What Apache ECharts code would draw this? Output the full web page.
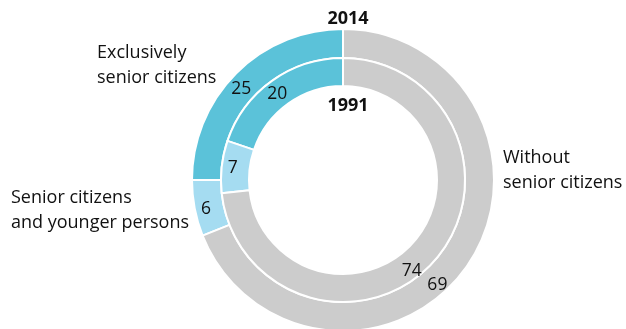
<!DOCTYPE html>
<html>
<head>
<meta charset="utf-8">
<script src="https://cdn.jsdelivr.net/npm/echarts@6/dist/echarts.min.js"></script>
<style>
html,body{margin:0;padding:0;background:#fff;}
#chart{width:626px;height:329px;}
</style>
</head>
<body>
<div id="chart"></div>
<script>
const categories = ['Exclusively senior citizens', 'Senior citizens and younger persons', 'Without senior citizens'];
const categoryLines = [['Exclusively', 'senior citizens'], ['Senior citizens', 'and younger persons'], ['Without', 'senior citizens']];
const values2014 = [25, 6, 69];
const values1991 = [20, 7, 74];
const ringTitles = ['2014', '1991'];
const colors = ['#5bc2d9', '#a5dcf1', '#cccccc'];

const FONT = '"Open Sans", "Noto Sans", sans-serif';
const chart = echarts.init(document.getElementById('chart'), null, {renderer: 'canvas'});

const center = [343, 180];
// label nudges (px) relative to the mid-angle position
const outerNudge = [[-3, 8], [0, 3], [-21, 27]];
const innerNudge = [[-1, 4], [0, 0], [-14, 17]];

function ring(name, values, radius, nudge) {
  return {
    type: 'pie',
    name: name,
    center: center,
    radius: radius,
    startAngle: 90,
    clockwise: false,
    avoidLabelOverlap: false,
    silent: true,
    animation: false,
    itemStyle: {borderColor: '#ffffff', borderWidth: 2},
    label: {
      show: true,
      position: 'inside',
      formatter: '{c}',
      color: '#111111',
      fontSize: 17.5,
      fontFamily: FONT
    },
    labelLine: {show: false},
    labelLayout: function (p) { return {dx: nudge[p.dataIndex][0], dy: nudge[p.dataIndex][1]}; },
    emphasis: {disabled: true},
    data: values.map((v, i) => ({name: categories[i], value: v, itemStyle: {color: colors[i]}}))
  };
}

const labelPos = [[97, 53], [11, 198], [503, 158]];
const graphics = [];
categoryLines.forEach((lines, i) => {
  graphics.push({
    type: 'text', left: labelPos[i][0], top: labelPos[i][1] - 13,
    style: {text: lines.join('\n'), font: '18px ' + FONT, fill: '#111111', lineHeight: 25}
  });
});

chart.setOption({
  backgroundColor: '#ffffff',
  animation: false,
  title: [
    {text: ringTitles[0], left: 343, top: 5, textAlign: 'center',
     textStyle: {fontSize: 18, fontWeight: 'bold', fontFamily: FONT, color: '#111111'}},
    {text: ringTitles[1], left: 343, top: 92, textAlign: 'center',
     textStyle: {fontSize: 18, fontWeight: 'bold', fontFamily: FONT, color: '#111111'}}
  ],
  series: [
    ring(ringTitles[0], values2014, [122, 151], outerNudge),
    ring(ringTitles[1], values1991, [94, 122], innerNudge)
  ],
  graphic: graphics
});
</script>
</body>
</html>
